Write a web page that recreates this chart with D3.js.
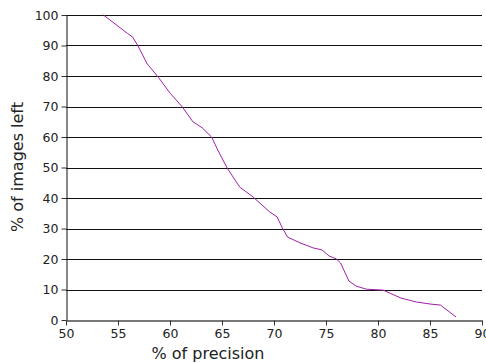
<!DOCTYPE html>
<html>
<head>
<meta charset="utf-8">
<script src="https://cdn.jsdelivr.net/npm/d3@7"></script>
<style>
  body { margin: 0; background: #fff; }
  text { font-family: "DejaVu Sans", sans-serif; fill: #222; }
</style>
</head>
<body>
<div id="chart"></div>
<script>
// precision (%) vs share of images left (%)
const precision = [53.6, 55.9, 56.4, 56.9, 57.8, 58.9, 60.0, 61.2, 62.2, 63.1, 64.0, 64.6, 65.5, 66.7, 68.0, 69.6, 70.3, 70.8, 71.3, 72.5, 73.8, 74.6, 75.3, 76.0, 76.4, 77.2, 77.9, 78.9, 80.5, 82.2, 83.7, 85.1, 86.0, 87.5];
const imagesLeft = [100, 94, 92.8, 90, 84, 79.5, 74.4, 69.8, 65, 63, 60, 55.7, 49.8, 43.6, 40.3, 35.4, 33.8, 30.2, 27.2, 25.3, 23.6, 23, 21, 20, 18.7, 12.8, 11.1, 10.1, 9.8, 7.2, 5.9, 5.2, 4.9, 1];
const xTicks = [50, 55, 60, 65, 70, 75, 80, 85, 90];
const yTicks = [0, 10, 20, 30, 40, 50, 60, 70, 80, 90, 100];

const W = 486, H = 363;
const m = { left: 66, right: 4, top: 15, bottom: 43 };

const svg = d3.select("#chart").append("svg").attr("width", W).attr("height", H);

const x = d3.scaleLinear().domain([50, 90]).range([m.left, W - m.right]);
const y = d3.scaleLinear().domain([0, 100]).range([H - m.bottom, m.top]);

// horizontal grid
svg.append("g").selectAll("line").data(yTicks.filter(d => d > 0)).join("line")
  .attr("x1", x(50)).attr("x2", x(90))
  .attr("y1", d => Math.round(y(d)) + 0.5).attr("y2", d => Math.round(y(d)) + 0.5)
  .attr("stroke", "#111").attr("stroke-width", 1);

const xAxis = svg.append("g")
  .attr("transform", `translate(0,${Math.round(y(0)) + 0.5})`)
  .call(d3.axisBottom(x).tickValues(xTicks).tickSize(5).tickPadding(4).tickSizeOuter(0));
xAxis.select(".domain").attr("stroke", "#777").attr("stroke-width", 2);
xAxis.selectAll(".tick line").attr("stroke", "#333");
xAxis.selectAll("text").style("font-size", "12.5px").attr("fill", "#222");

const yAxis = svg.append("g")
  .attr("transform", `translate(${Math.round(x(50)) + 0.5},0)`)
  .call(d3.axisLeft(y).tickValues(yTicks).tickSize(5).tickPadding(3).tickSizeOuter(0));
yAxis.select(".domain").attr("stroke", "#111");
yAxis.selectAll(".tick line").attr("stroke", "#333");
yAxis.selectAll("text").style("font-size", "12.5px").attr("fill", "#222");

const line = d3.line().x((d, i) => x(precision[i])).y(d => y(d));
svg.append("path").datum(imagesLeft)
  .attr("d", line)
  .attr("fill", "none").attr("stroke", "#a020a8").attr("stroke-width", 1);

svg.append("text")
  .attr("x", 208).attr("y", 359)
  .attr("text-anchor", "middle")
  .style("font-size", "16px")
  .text("% of precision");

svg.append("text")
  .attr("transform", "translate(23,167) rotate(-90)")
  .attr("text-anchor", "middle")
  .style("font-size", "16px")
  .text("% of images left");
</script>
</body>
</html>
